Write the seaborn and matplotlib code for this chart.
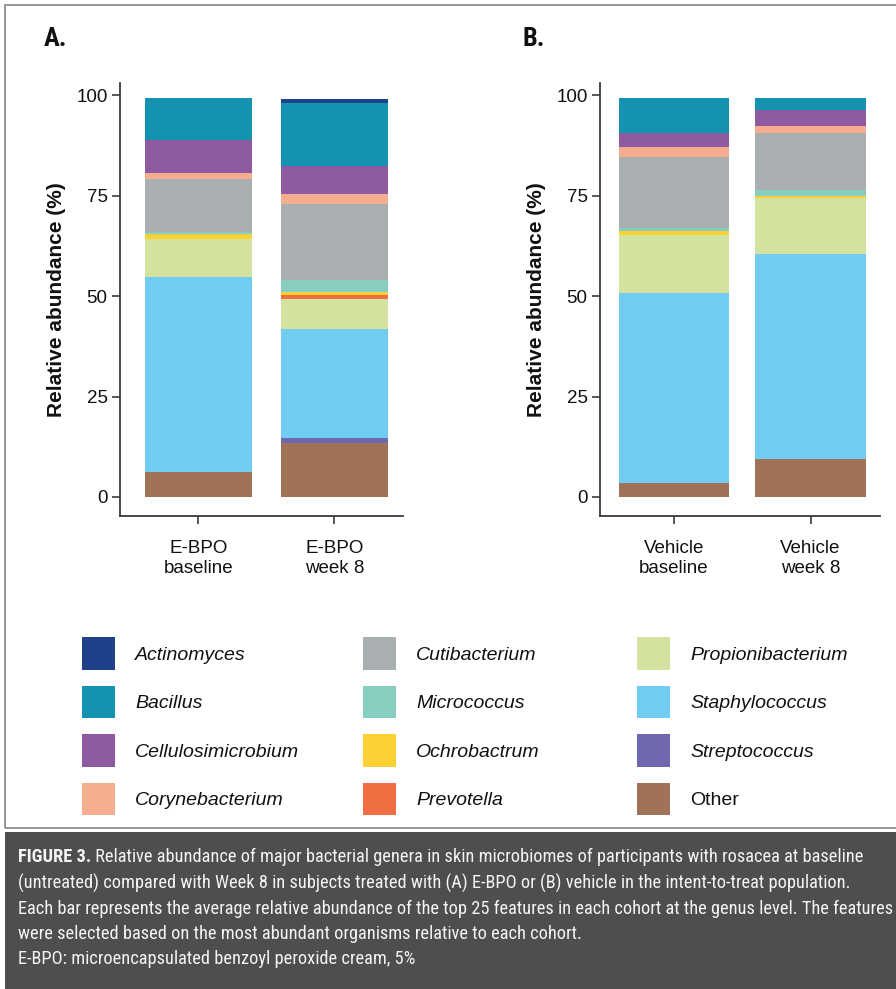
import numpy as np
import matplotlib
matplotlib.use("Agg")
import matplotlib.pyplot as plt
from matplotlib.patches import Rectangle, Patch
from matplotlib import font_manager as fm
import seaborn as sns

# ---------------------------------------------------------------- data
genera = ["Actinomyces", "Bacillus", "Cellulosimicrobium", "Corynebacterium",
          "Cutibacterium", "Micrococcus", "Ochrobactrum", "Prevotella",
          "Propionibacterium", "Staphylococcus", "Streptococcus", "Other"]
genus_colors = ["#1d4289", "#1393b0", "#8e5ba1", "#f4ad8e",
                "#a9afb0", "#86cfc0", "#fbd136", "#ef6f43",
                "#d3e29e", "#70ccf0", "#6d68b0", "#a07257"]

ebpo_groups = ["E-BPO\nbaseline", "E-BPO\nweek 8"]
vehicle_groups = ["Vehicle\nbaseline", "Vehicle\nweek 8"]

# relative abundance (%) per genus, same order as `genera`
ebpo_baseline = [0.0, 10.4, 8.1, 1.7, 13.0, 0.6, 1.3, 0.0, 9.4, 48.4, 0.0, 6.3]
ebpo_week8 = [0.9, 15.8, 7.0, 2.4, 18.9, 2.9, 0.9, 0.9, 7.6, 27.1, 1.2, 13.4]
vehicle_baseline = [0.0, 8.6, 3.6, 2.3, 17.9, 0.5, 1.1, 0.0, 14.5, 47.3, 0.0, 3.4]
vehicle_week8 = [0.0, 2.8, 4.0, 1.9, 14.1, 1.5, 0.6, 0.0, 13.9, 51.0, 0.0, 9.4]

y_ticks = [0, 25, 50, 75, 100]

legend_columns = [genera[0:4], genera[4:8], genera[8:12]]

caption_head = "FIGURE 3."
caption_lines = [
    " Relative abundance of major bacterial genera in skin microbiomes of participants with rosacea at baseline",
    "(untreated) compared with Week 8 in subjects treated with (A) E-BPO or (B) vehicle in the intent-to-treat population.",
    "Each bar represents the average relative abundance of the top 25 features in each cohort at the genus level. The features",
    "were selected based on the most abundant organisms relative to each cohort.",
    "E-BPO: microencapsulated benzoyl peroxide cream, 5%",
]

# ---------------------------------------------------------------- style
sns.set_style("ticks")
plt.rcParams["font.family"] = ["Liberation Sans", "DejaVu Sans"]


def first_family(names):
    for n in names:
        try:
            fm.findfont(fm.FontProperties(family=n), fallback_to_default=False)
            return n
        except ValueError:
            continue
    return "DejaVu Sans"


narrow = first_family(["Liberation Sans Narrow", "Roboto Condensed",
                       "Open Sans Condensed", "DejaVu Sans"])
narrow_family = [narrow, "DejaVu Sans"]

W, H = 896, 989
fig = plt.figure(figsize=(W / 100, H / 100), dpi=100)
fig.patch.set_facecolor("white")


def px_axes(x0, y0, x1, y1):
    return fig.add_axes([x0 / W, 1 - y1 / H, (x1 - x0) / W, (y1 - y0) / H])


AXIS_COLOR = "#3a3a3a"


def stacked_panel(ax, groups, series, width, xlim):
    vals = np.array(series, dtype=float)
    # cumulative top of every layer, "Other" sitting at the bottom
    tops = np.cumsum(vals[:, ::-1], axis=1)[:, ::-1]
    for j, c in enumerate(genus_colors):
        sns.barplot(x=groups, y=tops[:, j], color=c, saturation=1,
                    width=width, linewidth=0, errorbar=None, ax=ax)
    ax.set_xlim(*xlim)
    ax.set_ylim(-4.73, 103.0)
    ax.set_yticks(y_ticks)
    ax.set_yticklabels([str(t) for t in y_ticks])
    ax.set_ylabel("Relative abundance (%)", fontsize=15, fontweight="bold",
                  labelpad=7, color="#111111")
    ax.set_xlabel("")
    sns.despine(ax=ax)
    for s in ("left", "bottom"):
        ax.spines[s].set_color(AXIS_COLOR)
        ax.spines[s].set_linewidth(1.3)
    ax.tick_params(axis="both", direction="out", length=6, width=1.2,
                   color=AXIS_COLOR, labelsize=13.5, labelcolor="#111111")
    ax.tick_params(axis="x", pad=11)
    ax.tick_params(axis="y", pad=3)
    for lab in ax.get_xticklabels():
        lab.set_linespacing(1.25)
    ax.set_facecolor("none")


ax_a = px_axes(120, 83, 403, 516)
stacked_panel(ax_a, ebpo_groups, [ebpo_baseline, ebpo_week8], 0.787,
              (-0.577, 1.504))
ax_b = px_axes(600, 83, 880, 516)
stacked_panel(ax_b, vehicle_groups, [vehicle_baseline, vehicle_week8], 0.806,
              (-0.542, 1.509))

fig.text(44 / W, 1 - 27 / H, "A.", fontsize=19, fontweight="bold",
         family=narrow_family, va="top", ha="left", color="#111111")
fig.text(522 / W, 1 - 27 / H, "B.", fontsize=19, fontweight="bold",
         family=narrow_family, va="top", ha="left", color="#111111")

# ---------------------------------------------------------------- legend
LEG_FS = 14
for names, x_px in zip(legend_columns, (82, 363, 637)):
    handles = [Patch(facecolor=genus_colors[genera.index(n)], edgecolor="none")
               for n in names]
    leg = fig.legend(handles, names, loc="upper left",
                     bbox_to_anchor=(x_px / W, 1 - 637 / H), frameon=False,
                     fontsize=LEG_FS, handlelength=1.7, handleheight=2.23,
                     handletextpad=1.03, labelspacing=0.8, borderpad=0,
                     borderaxespad=0)
    for t in leg.get_texts():
        t.set_color("#111111")
        if t.get_text() != "Other":
            t.set_fontstyle("italic")

# ---------------------------------------------------------------- frame + caption
fig.add_artist(Rectangle((5 / W, 1 - 828 / H), 1.0, (828 - 5) / H,
                         transform=fig.transFigure, fill=False,
                         edgecolor="#8c8c8c", linewidth=1.3))
fig.add_artist(Rectangle((5 / W, 0), 1.0, (989 - 832) / H,
                         transform=fig.transFigure, facecolor="#4d4e50",
                         edgecolor="none"))

line_y = [857, 883, 909, 934, 959]
renderer = fig.canvas.get_renderer()
base = 13.0
# size the caption so that its longest line ends just inside the right edge
probe = fig.text(0, 0, caption_lines[2], fontsize=base, family=narrow_family)
w_long = probe.get_window_extent(renderer).width
probe.remove()
size = base * 872.0 / w_long
head = fig.text(18 / W, 1 - line_y[0] / H, caption_head, fontsize=size,
                fontweight="bold", family=narrow_family, color="#f4f4f4",
                va="center", ha="left")
bb_head = head.get_window_extent(renderer)
for i, (txt, yy) in enumerate(zip(caption_lines, line_y)):
    x0 = bb_head.x1 if i == 0 else 18
    fig.text(x0 / W, 1 - yy / H, txt, fontsize=size, family=narrow_family,
             color="#f4f4f4", va="center", ha="left")

fig.savefig("out.png", dpi=100, facecolor="white")
